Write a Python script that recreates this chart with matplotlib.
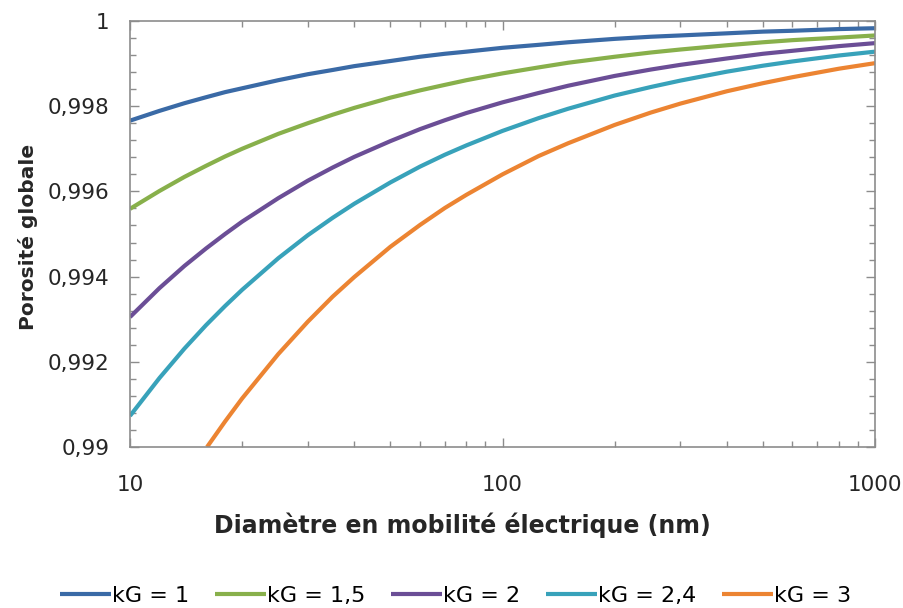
import matplotlib.pyplot as plt
from matplotlib.ticker import MultipleLocator, FuncFormatter, LogLocator, NullFormatter
import numpy as np

plt.rcParams['font.family'] = ['DejaVu Sans']

# diametre en mobilite (nm)
d = [10, 12, 14, 16, 18, 20, 25, 30, 35, 40, 50, 60, 70, 80, 100, 125, 150,
     200, 250, 300, 400, 500, 600, 800, 1000]
d_kg3 = [16.1, 18, 20, 25, 30, 35, 40, 50, 60, 70, 80, 100, 125, 150,
         200, 250, 300, 400, 500, 600, 800, 1000]

# porosite globale
por_kg1 = [0.99766, 0.99789, 0.99807, 0.99821, 0.99833, 0.99842, 0.99861, 0.99875,
           0.99885, 0.99894, 0.99906, 0.99916, 0.99923, 0.99928, 0.99937, 0.99944,
           0.99950, 0.99958, 0.99963, 0.99966, 0.99971, 0.99975, 0.99977, 0.99981,
           0.99983]
por_kg15 = [0.99559, 0.99601, 0.99634, 0.99660, 0.99682, 0.99700, 0.99735, 0.99760,
            0.99780, 0.99796, 0.99820, 0.99837, 0.99850, 0.99861, 0.99877, 0.99891,
            0.99902, 0.99916, 0.99926, 0.99933, 0.99943, 0.99950, 0.99955, 0.99961,
            0.99966]
por_kg2 = [0.99305, 0.99373, 0.99425, 0.99466, 0.99500, 0.99529, 0.99584, 0.99625,
           0.99656, 0.99681, 0.99718, 0.99746, 0.99767, 0.99784, 0.99809, 0.99831,
           0.99848, 0.99871, 0.99886, 0.99897, 0.99912, 0.99923, 0.99930, 0.99941,
           0.99948]
por_kg24 = [0.99073, 0.99162, 0.99231, 0.99286, 0.99331, 0.99369, 0.99443, 0.99497,
            0.99538, 0.99571, 0.99621, 0.99658, 0.99686, 0.99708, 0.99742, 0.99772,
            0.99794, 0.99825, 0.99845, 0.99860, 0.99881, 0.99895, 0.99905, 0.99919,
            0.99928]
por_kg3 = [0.99000, 0.99060, 0.99114, 0.99218, 0.99294, 0.99353, 0.99399, 0.99470,
           0.99521, 0.99561, 0.99592, 0.99640, 0.99683, 0.99713, 0.99756, 0.99785,
           0.99806, 0.99835, 0.99854, 0.99868, 0.99888, 0.99901]

labels = ['kG = 1', 'kG = 1,5', 'kG = 2', 'kG = 2,4', 'kG = 3']
colors = ['#3A6AA6', '#88B04B', '#6B4E96', '#38A2BA', '#EC8432']

fig = plt.figure(figsize=(9.04, 6.08), dpi=100)
ax = fig.add_axes([0.1438, 0.2648, 0.8242, 0.7007])

series = [(d, por_kg1), (d, por_kg15), (d, por_kg2), (d, por_kg24), (d_kg3, por_kg3)]
for (x, y), lab, c in zip(series, labels, colors):
    ax.plot(x, y, color=c, lw=3.0, label=lab, solid_capstyle='butt',
            solid_joinstyle='round')

ax.set_xscale('log')
ax.set_xlim(10, 1000)
ax.set_ylim(0.99, 1.0)

ax.xaxis.set_major_locator(LogLocator(base=10))
ax.xaxis.set_minor_locator(LogLocator(base=10, subs=np.arange(2, 10)))
ax.xaxis.set_minor_formatter(NullFormatter())
ax.xaxis.set_major_formatter(FuncFormatter(lambda v, p: '%d' % round(v)))

ax.yaxis.set_major_locator(MultipleLocator(0.002))
ax.yaxis.set_minor_locator(MultipleLocator(0.0004))


def fmt_y(v, p):
    s = ('%.3f' % v).rstrip('0').rstrip('.')
    return s.replace('.', ',')


ax.yaxis.set_major_formatter(FuncFormatter(fmt_y))

for sp in ax.spines.values():
    sp.set_color('#8C8C8C')
    sp.set_linewidth(1.2)

ax.tick_params(which='both', direction='in', top=True, right=True, color='#8C8C8C')
ax.tick_params(which='major', length=6.5, width=1)
ax.tick_params(which='minor', length=4.5, width=1)
ax.tick_params(axis='y', which='major', labelsize=15.5, pad=15, labelcolor='#262626')
ax.tick_params(axis='x', which='major', labelsize=15.5, pad=20, labelcolor='#262626')

ax.set_xlabel('Diamètre en mobilité électrique (nm)', fontsize=17, fontweight='bold',
              color='#262626')
ax.xaxis.set_label_coords(0.4456, -0.153)
ax.set_ylabel('Porosité globale', fontsize=14.5, fontweight='bold', color='#262626')
ax.yaxis.set_label_coords(-0.1235, 0.493)

fig.legend(loc='center', bbox_to_anchor=(0.504, 0.02), ncol=5, frameon=False,
           fontsize=16, handlelength=2.3, handletextpad=0.05, columnspacing=1.15)

fig.savefig('out.png', dpi=100)
